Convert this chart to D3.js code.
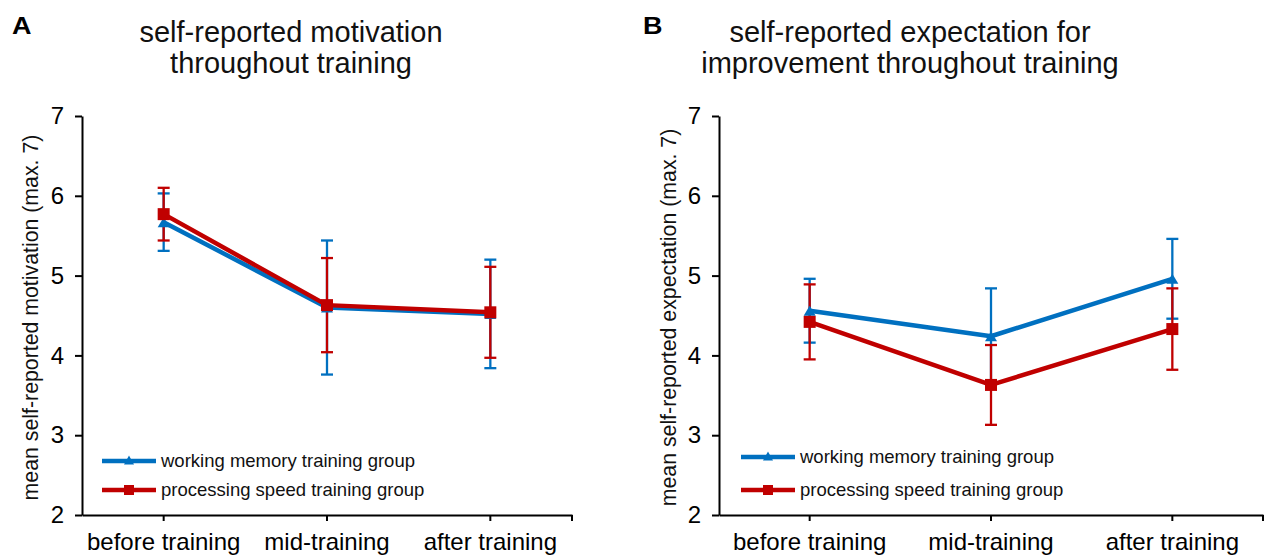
<!DOCTYPE html>
<html>
<head>
<meta charset="utf-8">
<script src="https://cdn.jsdelivr.net/npm/d3@7"></script>
<style>
  html, body { margin: 0; padding: 0; background: #fff; }
  svg { display: block; font-family: "Liberation Sans", Arial, sans-serif; }
</style>
</head>
<body>
<svg id="chart" width="1269" height="556"></svg>
<script>
// Time points on the x axis
const categories = ["before training", "mid-training", "after training"];
const yTicks = [2, 3, 4, 5, 6, 7];

// Panel A: self-reported motivation (means and error-bar half-widths)
const motivationWM = [5.67, 4.60, 4.52];
const motivationWMErr = [0.36, 0.84, 0.68];
const motivationPS = [5.77, 4.63, 4.54];
const motivationPSErr = [0.33, 0.59, 0.57];

// Panel B: self-reported expectation for improvement
const expectationWM = [4.56, 4.24, 4.96];
const expectationWMErr = [0.40, 0.60, 0.50];
const expectationPS = [4.42, 3.63, 4.33];
const expectationPSErr = [0.47, 0.50, 0.51];

const groupNames = ["working memory training group", "processing speed training group"];
const BLUE = "#0070C0", RED = "#C00000";

const svg = d3.select("#chart");

function trianglePath(w, h) {
  return `M0,${-h / 2}L${w / 2},${h / 2}L${-w / 2},${h / 2}Z`;
}

function drawPanel(cfg) {
  const g = svg.append("g");
  const x = d3.scaleBand().domain(categories).range([cfg.x0, cfg.x1]);
  const y = d3.scaleLinear().domain([2, 7]).range([cfg.yBottom, cfg.yTop]);
  const cx = c => x(c) + x.bandwidth() / 2;

  // panel letter
  g.append("text").attr("x", cfg.letterX).attr("y", 34)
    .style("font-size", "27px").style("font-weight", "bold").attr("fill", "#000")
    .attr("transform", `translate(${cfg.letterX},34) scale(1,0.9) translate(${-cfg.letterX},-34)`)
    .text(cfg.letter);

  // title
  const t = g.append("text").attr("text-anchor", "middle").style("font-size", "29px").attr("fill", "#111");
  cfg.title.forEach((line, i) => {
    t.append("tspan").attr("x", cfg.titleX).attr("y", 42 + i * 31).text(line);
  });

  // y axis
  const ya = g.append("g").attr("transform", `translate(${cfg.x0},0)`)
    .call(d3.axisLeft(y).tickValues(yTicks).tickFormat(d3.format("d")).tickSize(7).tickSizeOuter(0).tickPadding(11));
  ya.selectAll("path, line").attr("stroke", "#000").attr("stroke-width", 2);
  ya.selectAll("text").attr("font-size", 24).attr("fill", "#000")
    .attr("font-family", "Liberation Sans, Arial, sans-serif");

  // x axis
  const xa = g.append("g").attr("transform", `translate(0,${cfg.yBottom})`)
    .call(d3.axisBottom(x).tickSize(6).tickSizeOuter(0).tickPadding(12));
  xa.selectAll("path, line").attr("stroke", "#000").attr("stroke-width", 2);
  xa.selectAll("text").attr("font-size", 24).attr("fill", "#000")
    .attr("font-family", "Liberation Sans, Arial, sans-serif");
  // closing tick at the right end of the category axis
  xa.append("line").attr("x1", x.range()[1]).attr("x2", x.range()[1])
    .attr("y1", 0).attr("y2", 6).attr("stroke", "#000").attr("stroke-width", 2);

  // y axis title
  g.append("text")
    .attr("transform", `translate(${cfg.yLabelX},${(cfg.yTop + cfg.yBottom) / 2 + 2}) rotate(-90)`)
    .attr("text-anchor", "middle").style("font-size", "21.3px").attr("fill", "#111")
    .text(cfg.yLabel);

  const series = [
    { name: groupNames[0], color: BLUE, values: cfg.wm, err: cfg.wmErr, marker: "triangle" },
    { name: groupNames[1], color: RED, values: cfg.ps, err: cfg.psErr, marker: "square" }
  ];

  // error bars
  series.forEach(s => {
    const eb = g.append("g").attr("stroke", s.color).attr("stroke-width", 2.3);
    categories.forEach((c, i) => {
      const lo = y(s.values[i] - s.err[i]), hi = y(s.values[i] + s.err[i]);
      eb.append("line").attr("x1", cx(c)).attr("x2", cx(c)).attr("y1", lo).attr("y2", hi);
      eb.append("line").attr("x1", cx(c) - 6).attr("x2", cx(c) + 6).attr("y1", lo).attr("y2", lo);
      eb.append("line").attr("x1", cx(c) - 6).attr("x2", cx(c) + 6).attr("y1", hi).attr("y2", hi);
    });
  });

  // lines and markers
  series.forEach(s => {
    const line = d3.line().x((d, i) => cx(categories[i])).y(d => y(d));
    g.append("path").datum(s.values).attr("d", line)
      .attr("fill", "none").attr("stroke", s.color).attr("stroke-width", 4.5)
      .attr("stroke-linejoin", "round");
    s.values.forEach((v, i) => {
      if (s.marker === "square") {
        g.append("rect").attr("x", cx(categories[i]) - 6).attr("y", y(v) - 6)
          .attr("width", 12).attr("height", 12).attr("fill", s.color);
      } else {
        g.append("path").attr("transform", `translate(${cx(categories[i])},${y(v)})`)
          .attr("d", trianglePath(12, 10)).attr("fill", s.color);
      }
    });
  });

  // legend
  series.forEach((s, i) => {
    const ly = cfg.legendY[i];
    const lg = g.append("g");
    lg.append("line").attr("x1", cfg.legendX).attr("x2", cfg.legendX + 54)
      .attr("y1", ly).attr("y2", ly).attr("stroke", s.color).attr("stroke-width", 4.5);
    const mx = cfg.legendX + 27;
    if (s.marker === "square") {
      lg.append("rect").attr("x", mx - 5).attr("y", ly - 5).attr("width", 10).attr("height", 10).attr("fill", s.color);
    } else {
      lg.append("path").attr("transform", `translate(${mx},${ly - 1})`).attr("d", trianglePath(10, 9)).attr("fill", s.color);
    }
    lg.append("text").attr("x", cfg.legendX + 59).attr("y", ly).attr("dy", "0.35em")
      .style("font-size", "18.5px").attr("fill", "#111").text(s.name);
  });
}

drawPanel({
  letter: "A", letterX: 12,
  title: ["self-reported motivation", "throughout training"], titleX: 291,
  x0: 82, x1: 572, yTop: 116, yBottom: 515, yLabelX: 37.6,
  yLabel: "mean self-reported motivation (max. 7)",
  wm: motivationWM, wmErr: motivationWMErr, ps: motivationPS, psErr: motivationPSErr,
  legendX: 102, legendY: [461, 490]
});

drawPanel({
  letter: "B", letterX: 643,
  title: ["self-reported expectation for", "improvement throughout training"], titleX: 910,
  x0: 719, x1: 1263, yTop: 116, yBottom: 515, yLabelX: 675.6,
  yLabel: "mean self-reported expectation (max. 7)",
  wm: expectationWM, wmErr: expectationWMErr, ps: expectationPS, psErr: expectationPSErr,
  legendX: 741, legendY: [457, 490]
});
</script>
</body>
</html>
